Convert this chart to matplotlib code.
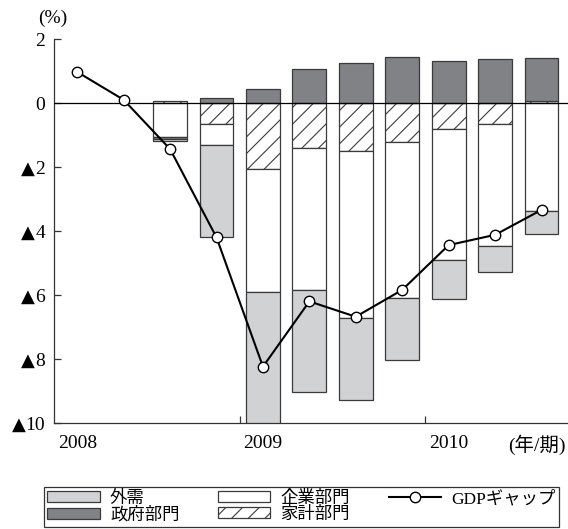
import matplotlib.pyplot as plt
import numpy as np

plt.rcParams['font.family'] = ['Liberation Serif', 'Noto Sans CJK JP', 'DejaVu Sans']
plt.rcParams['hatch.linewidth'] = 0.8

# quarters 2008Q1 .. 2010Q3
quarters = np.arange(11)
gdp_gap = [0.97, 0.10, -1.44, -4.20, -8.24, -6.20, -6.68, -5.84, -4.44, -4.12, -3.34]

# contributions, bars start at 2008Q3
bar_q = np.arange(2, 11)
household = [0.06, -0.67, -2.05, -1.42, -1.50, -1.22, -0.81, -0.66, 0.06]
corporate = [-1.05, -0.65, -3.85, -4.42, -5.23, -4.88, -4.09, -3.81, -3.38]
government = [-0.06, 0.15, 0.45, 1.06, 1.26, 1.43, 1.31, 1.375, 1.34]
external = [-0.08, -2.88, -4.40, -3.20, -2.55, -1.93, -1.22, -0.80, -0.71]

year_labels = ['2008', '2009', '2010']
year_pos = [0, 4, 8]
year_bounds = [3.5, 7.5]
y_ticks = [2, 0, -2, -4, -6, -8, -10]

fig = plt.figure(figsize=(5.68, 5.29), dpi=100)
ax = fig.add_axes([54 / 568, 1 - 423 / 529, 1 - 54 / 568, (423 - 39) / 529])

light = '#d1d2d4'
dark = '#808285'
edge = '#3a3a3a'
width = 0.73

# stack: positives upward, negatives downward, in this order
series = [
    (household, 'white', '//', '家計部門'),
    (corporate, 'white', None, '企業部門'),
    (government, dark, None, '政府部門'),
    (external, light, None, '外需'),
]
pos = np.zeros(len(bar_q))
neg = np.zeros(len(bar_q))
handles = {}
for vals, color, hatch, label in series:
    vals = np.array(vals)
    bottom = np.where(vals >= 0, pos, neg)
    h = ax.bar(bar_q, vals, width, bottom=bottom, color=color, hatch=hatch,
               edgecolor=edge, linewidth=0.9, label=label, zorder=2)
    handles[label] = h
    pos = pos + np.where(vals >= 0, vals, 0)
    neg = neg + np.where(vals < 0, vals, 0)

ax.axhline(0, color='black', linewidth=0.9, zorder=3)

line, = ax.plot(quarters, gdp_gap, color='black', linewidth=1.5, marker='o',
                markersize=7.5, markerfacecolor='white', markeredgecolor='black',
                markeredgewidth=1.0, label='GDPギャップ', zorder=4)

ax.set_xlim(-0.5, 10.57)
ax.set_ylim(-10, 2)

# y ticks: digits as labels, ▲ (minus sign) drawn next to them
ax.set_yticks(y_ticks)
ax.set_yticklabels([str(abs(v)) for v in y_ticks], fontsize=14)
for v in y_ticks:
    if v < 0:
        nd = len(str(abs(v)))
        ax.annotate('▲', xy=(0, v), xycoords=('axes fraction', 'data'),
                    xytext=(-(6.5 + nd * 7.0), 0), textcoords='offset points',
                    ha='right', va='center_baseline', fontsize=13,
                    family='DejaVu Sans')

# x: year labels at Q1, ticks at year boundaries
ax.set_xticks(year_pos)
ax.set_xticklabels(year_labels, fontsize=14)
ax.set_xticks(year_bounds, minor=True)
ax.tick_params(axis='x', which='major', length=0, pad=9)
ax.tick_params(axis='x', which='minor', direction='in', length=5, width=0.9, color='#333333')
ax.tick_params(axis='y', direction='in', length=5, width=0.9, color='#333333', pad=6.5)
for s in ['top', 'right']:
    ax.spines[s].set_visible(False)
for s in ['left', 'bottom']:
    ax.spines[s].set_color('#333333')
    ax.spines[s].set_linewidth(0.9)

fig.text(566 / 568, 1 - 445 / 529, '(年/期)', ha='right', va='center', fontsize=14)
fig.text(53 / 568, 1 - 18 / 529, '(%)', ha='center', va='center', fontsize=14)

leg_handles = [handles['外需'], handles['政府部門'], handles['企業部門'],
               handles['家計部門'], line]
leg = fig.legend(leg_handles, [h.get_label() for h in leg_handles], ncol=3,
                 loc='lower left', bbox_to_anchor=(44 / 568, 2 / 529, 515 / 568, 42 / 529),
                 mode='expand', fontsize=12.5, frameon=True, fancybox=False,
                 edgecolor='black', handlelength=3.0, handleheight=0.6,
                 handletextpad=0.6, columnspacing=1.6, borderpad=0.2,
                 labelspacing=0.0, borderaxespad=0)
leg.get_frame().set_linewidth(0.9)

fig.savefig('out.png', dpi=100)
